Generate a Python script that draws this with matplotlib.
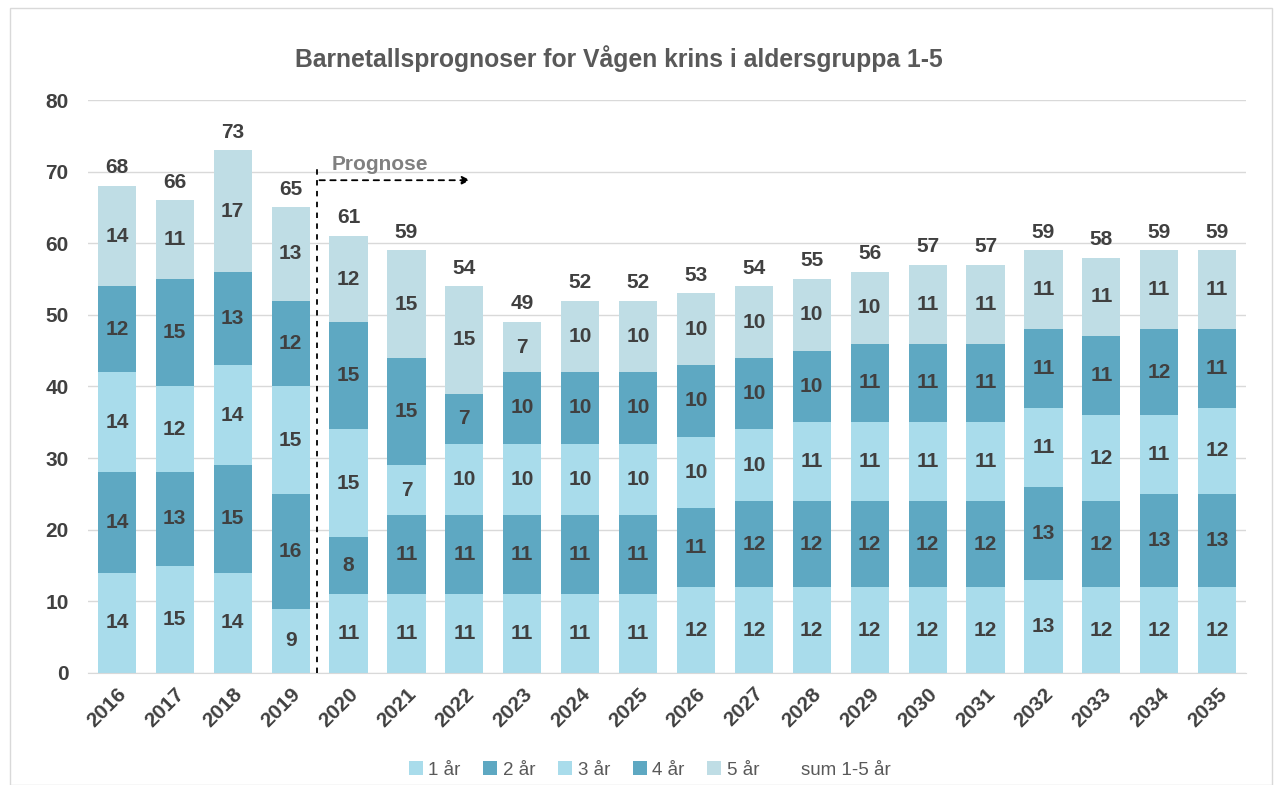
"""Barnetallsprognoser for Vågen krins, aldersgruppa 1-5."""

import numpy as np
from matplotlib import pyplot
from matplotlib.lines import Line2D
from matplotlib.patches import Rectangle

# Data.
years = [str(y) for y in range(2016, 2036)]
age1 = [14, 15, 14, 9, 11, 11, 11, 11, 11, 11, 12, 12, 12, 12, 12, 12, 13, 12, 12, 12]
age2 = [14, 13, 15, 16, 8, 11, 11, 11, 11, 11, 11, 12, 12, 12, 12, 12, 13, 12, 13, 13]
age3 = [14, 12, 14, 15, 15, 7, 10, 10, 10, 10, 10, 10, 11, 11, 11, 11, 11, 12, 11, 12]
age4 = [12, 15, 13, 12, 15, 15, 7, 10, 10, 10, 10, 10, 10, 11, 11, 11, 11, 11, 12, 11]
age5 = [14, 11, 17, 13, 12, 15, 15, 7, 10, 10, 10, 10, 10, 10, 11, 11, 11, 11, 11, 11]
totals = [68, 66, 73, 65, 61, 59, 54, 49, 52, 52, 53, 54, 55, 56, 57, 57, 59, 58, 59, 59]
series_labels = ['1 år', '2 år', '3 år', '4 år', '5 år']

colors = ['#A9DCEB', '#5EA8C2', '#A9DCEB', '#5EA8C2', '#BFDDE5']
text_color = '#404040'

pyplot.rc('font', family='Liberation Sans')
fig = pyplot.figure(figsize=(12.82, 7.85), dpi=100)
fig.patches.append(Rectangle((0.008, 0.0), 0.984, 0.99, transform=fig.transFigure,
                             fill=False, edgecolor='#D9D9D9', linewidth=1.0))
ax = fig.add_axes([0.0686, 0.1427, 0.9034, 0.7299])

x = np.arange(len(years))
bottom = np.zeros(len(years))
handles = []
for values, label, color in zip([age1, age2, age3, age4, age5], series_labels, colors):
    bars = ax.bar(x, values, width=0.66, bottom=bottom, color=color, label=label,
                  zorder=2)
    for xi, b, v in zip(x, bottom, values):
        ax.text(xi, b + v / 2, str(v), ha='center', va='center', fontsize=15,
                fontweight='bold', color=text_color, zorder=3)
    bottom += values
    handles.append(bars)

for xi, t in zip(x, totals):
    ax.text(xi, t + 1.2, str(t), ha='center', va='bottom', fontsize=15,
            fontweight='bold', color=text_color)

# Prognosis marker.
ax.plot([3.45, 3.45], [0, 70.8], color='black', linestyle=(0, (3, 3)),
        linewidth=1.3, zorder=4, clip_on=False)
ax.annotate('', xy=(6.15, 68.8), xytext=(3.45, 68.8),
            arrowprops=dict(arrowstyle='-|>', linestyle=(0, (3, 3)),
                            color='black', linewidth=1.3, mutation_scale=12))
ax.text(3.7, 71.0, 'Prognose', fontsize=15, fontweight='bold', color='#808080',
        ha='left', va='center')

ax.set_xlim(-0.5, len(years) - 0.5)
ax.set_ylim(0, 80)
ax.set_yticks(range(0, 81, 10))
ax.set_xticks(x)
ax.set_xticklabels(years, rotation=45, ha='right', rotation_mode='anchor')
ax.tick_params(axis='both', length=0, labelsize=15, labelcolor=text_color)
ax.tick_params(axis='y', pad=14)
ax.tick_params(axis='x', pad=8)
for lbl in ax.get_xticklabels() + ax.get_yticklabels():
    lbl.set_fontweight('bold')
ax.grid(axis='y', color='#D9D9D9', linewidth=1.0, zorder=0)
ax.set_axisbelow(True)
for side in ['top', 'right', 'left']:
    ax.spines[side].set_visible(False)
ax.spines['bottom'].set_color('#D9D9D9')

fig.text(0.483, 0.926, 'Barnetallsprognoser for Vågen krins i aldersgruppa 1-5',
         ha='center', va='center', fontsize=17.8, fontweight='bold', color='#595959')

handles.append(Line2D([], [], linestyle='none'))
fig.legend(handles, series_labels + ['sum 1-5 år'], loc='center',
           bbox_to_anchor=(0.507, 0.019), ncol=6, frameon=False, fontsize=13.5,
           handlelength=0.75, handleheight=0.75, handletextpad=0.3,
           columnspacing=1.2, labelcolor='#595959')

fig.savefig('out.png', dpi=100)
